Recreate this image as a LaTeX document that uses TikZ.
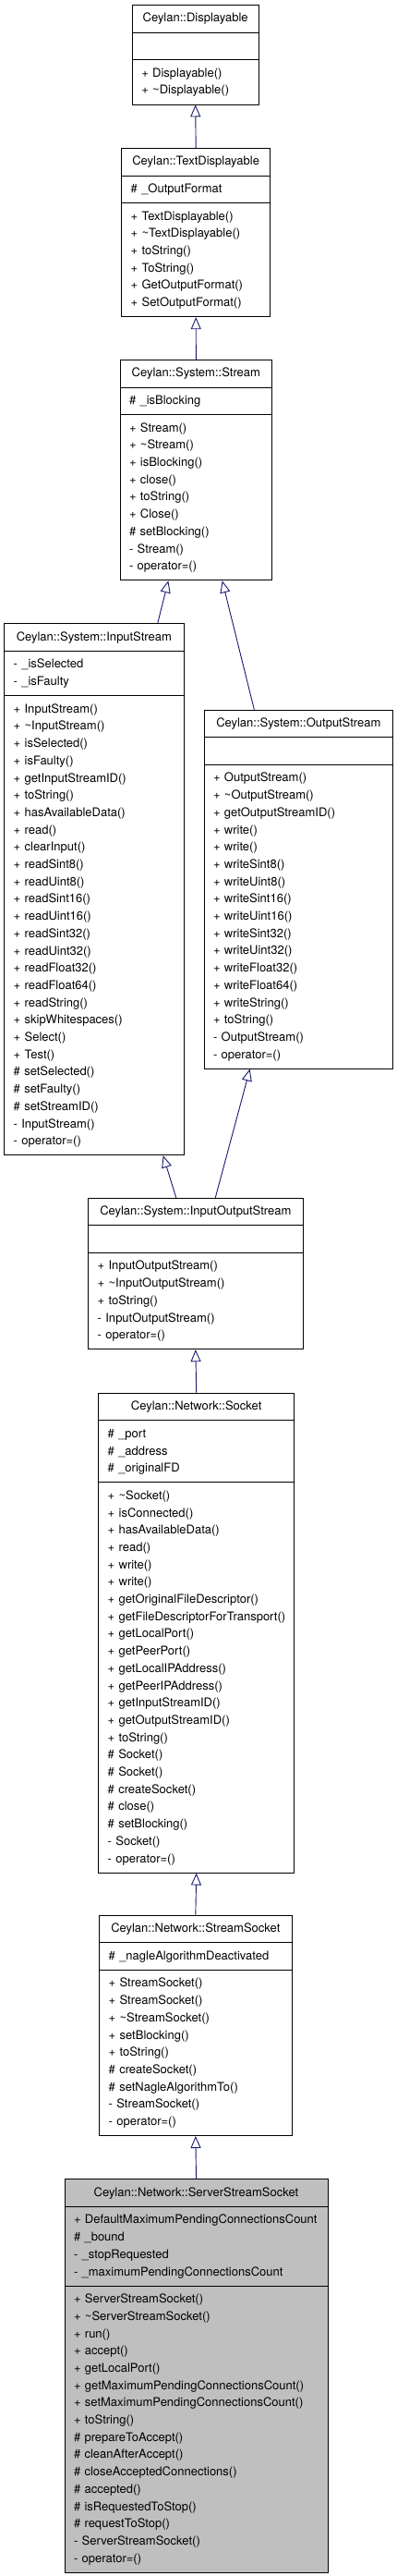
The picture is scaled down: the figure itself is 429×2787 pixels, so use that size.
\documentclass[tikz,border=0pt]{standalone}
\usepackage{fontspec}
\setmainfont{TeX Gyre Heros}
\usetikzlibrary{shapes.multipart}
\usetikzlibrary{arrows.meta}
\definecolor{midnight}{RGB}{25,25,112}
\hyphenpenalty=10000
% class name, centred in the top part
\newcommand{\classname}[1]{\makebox[\hsize]{\strut #1}}
\tikzset{x=1pt, y=-1pt,
    every node/.style={
        font=\fontsize{13}{18.7}\selectfont},
    classbox/.style={
        rectangle split,
        rectangle split parts=3,
        draw=black,
        line width=0.9pt,
        fill=white,
        inner xsep=10pt,
        inner ysep=5pt,
        align=left,
        anchor=north},
    basebox/.style={
        classbox,
        fill=gray!50},
    inherit/.style={
        draw=midnight,
        line width=0.9pt,
        -{Triangle[open,length=13pt,width=11pt]}}}

\begin{document}
\begin{tikzpicture}
        \useasboundingbox (0,0) rectangle (429,2787);

        \node[classbox,text width=116.7pt] (disp) at (211.65,5)
            {\classname{Ceylan::Displayable}
            \nodepart{two}\strut
            \nodepart{three}\strut +~Displayable()\\
            \strut +~\textasciitilde Displayable()};

        \node[classbox,text width=141pt] (textdisp) at (212.2,160)
            {\classname{Ceylan::TextDisplayable}
            \nodepart{two}\strut \#~\_OutputFormat
            \nodepart{three}\strut +~TextDisplayable()\\
            \strut +~\textasciitilde TextDisplayable()\\
            \strut +~toString()\\
            \strut +~ToString()\\
            \strut +~GetOutputFormat()\\
            \strut +~SetOutputFormat()};

        \node[classbox,text width=144.7pt] (stream) at (212.35,389)
            {\classname{Ceylan::System::Stream}
            \nodepart{two}\strut \#~\_isBlocking
            \nodepart{three}\strut +~Stream()\\
            \strut +~\textasciitilde Stream()\\
            \strut +~isBlocking()\\
            \strut +~close()\\
            \strut +~toString()\\
            \strut +~Close()\\
            \strut \#~setBlocking()\\
            \strut -~Stream()\\
            \strut -~operator=()};

        \node[classbox,text width=174.3pt] (instream) at (101.85,674.3)
            {\classname{Ceylan::System::InputStream}
            \nodepart{two}\strut -~\_isSelected\\
            \strut -~\_isFaulty
            \nodepart{three}\strut +~InputStream()\\
            \strut +~\textasciitilde InputStream()\\
            \strut +~isSelected()\\
            \strut +~isFaulty()\\
            \strut +~getInputStreamID()\\
            \strut +~toString()\\
            \strut +~hasAvailableData()\\
            \strut +~read()\\
            \strut +~clearInput()\\
            \strut +~readSint8()\\
            \strut +~readUint8()\\
            \strut +~readSint16()\\
            \strut +~readUint16()\\
            \strut +~readSint32()\\
            \strut +~readUint32()\\
            \strut +~readFloat32()\\
            \strut +~readFloat64()\\
            \strut +~readString()\\
            \strut +~skipWhitespaces()\\
            \strut +~Select()\\
            \strut +~Test()\\
            \strut \#~setSelected()\\
            \strut \#~setFaulty()\\
            \strut \#~setStreamID()\\
            \strut -~InputStream()\\
            \strut -~operator=()};

        \node[classbox,text width=184.7pt] (outstream) at (323.35,767.7)
            {\classname{Ceylan::System::OutputStream}
            \nodepart{two}\strut
            \nodepart{three}\strut +~OutputStream()\\
            \strut +~\textasciitilde OutputStream()\\
            \strut +~getOutputStreamID()\\
            \strut +~write()\\
            \strut +~write()\\
            \strut +~writeSint8()\\
            \strut +~writeUint8()\\
            \strut +~writeSint16()\\
            \strut +~writeUint16()\\
            \strut +~writeSint32()\\
            \strut +~writeUint32()\\
            \strut +~writeFloat32()\\
            \strut +~writeFloat64()\\
            \strut +~writeString()\\
            \strut +~toString()\\
            \strut -~OutputStream()\\
            \strut -~operator=()};

        \node[classbox,text width=212.3pt] (iostream) at (211.85,1295.7)
            {\classname{Ceylan::System::InputOutputStream}
            \nodepart{two}\strut
            \nodepart{three}\strut +~InputOutputStream()\\
            \strut +~\textasciitilde InputOutputStream()\\
            \strut +~toString()\\
            \strut -~InputOutputStream()\\
            \strut -~operator=()};

        \node[classbox,text width=192pt] (socket) at (212.7,1506.7)
            {\classname{Ceylan::Network::Socket}
            \nodepart{two}\strut \#~\_port\\
            \strut \#~\_address\\
            \strut \#~\_originalFD
            \nodepart{three}\strut +~\textasciitilde Socket()\\
            \strut +~isConnected()\\
            \strut +~hasAvailableData()\\
            \strut +~read()\\
            \strut +~write()\\
            \strut +~write()\\
            \strut +~getOriginalFileDescriptor()\\
            \strut +~getFileDescriptorForTransport()\\
            \strut +~getLocalPort()\\
            \strut +~getPeerPort()\\
            \strut +~getLocalIPAddress()\\
            \strut +~getPeerIPAddress()\\
            \strut +~getInputStreamID()\\
            \strut +~getOutputStreamID()\\
            \strut +~toString()\\
            \strut \#~Socket()\\
            \strut \#~Socket()\\
            \strut \#~createSocket()\\
            \strut \#~close()\\
            \strut \#~setBlocking()\\
            \strut -~Socket()\\
            \strut -~operator=()};

        \node[classbox,text width=188.3pt] (streamsocket) at (211.85,2071.7)
            {\classname{Ceylan::Network::StreamSocket}
            \nodepart{two}\strut \#~\_nagleAlgorithmDeactivated
            \nodepart{three}\strut +~StreamSocket()\\
            \strut +~StreamSocket()\\
            \strut +~\textasciitilde StreamSocket()\\
            \strut +~setBlocking()\\
            \strut +~toString()\\
            \strut \#~createSocket()\\
            \strut \#~setNagleAlgorithmTo()\\
            \strut -~StreamSocket()\\
            \strut -~operator=()};

        \node[basebox,text width=265pt] (server) at (212.5,2357.3)
            {\classname{Ceylan::Network::ServerStreamSocket}
            \nodepart{two}\strut +~DefaultMaximumPendingConnectionsCount\\
            \strut \#~\_bound\\
            \strut -~\_stopRequested\\
            \strut -~\_maximumPendingConnectionsCount
            \nodepart{three}\strut +~ServerStreamSocket()\\
            \strut +~\textasciitilde ServerStreamSocket()\\
            \strut +~run()\\
            \strut +~accept()\\
            \strut +~getLocalPort()\\
            \strut +~getMaximumPendingConnectionsCount()\\
            \strut +~setMaximumPendingConnectionsCount()\\
            \strut +~toString()\\
            \strut \#~prepareToAccept()\\
            \strut \#~cleanAfterAccept()\\
            \strut \#~closeAcceptedConnections()\\
            \strut \#~accepted()\\
            \strut \#~isRequestedToStop()\\
            \strut \#~requestToStop()\\
            \strut -~ServerStreamSocket()\\
            \strut -~operator=()};

        \draw[inherit] (textdisp.north) -- (disp.south);
        \draw[inherit] (stream.north) -- (textdisp.south);
        \draw[inherit] ([xshift=68.85pt]instream.north) -- ([xshift=-30pt]stream.south);
        \draw[inherit] ([xshift=-48pt]outstream.north) -- ([xshift=28.35pt]stream.south);
        \draw[inherit] ([xshift=-21.15pt]iostream.north) -- ([xshift=74.85pt]instream.south);
        \draw[inherit] ([xshift=21.45pt]iostream.north) -- ([xshift=-52.65pt]outstream.south);
        \draw[inherit] (socket.north) -- (iostream.south);
        \draw[inherit] (streamsocket.north) -- (socket.south);
        \draw[inherit] (server.north) -- (streamsocket.south);
    \end{tikzpicture}
\end{document}
